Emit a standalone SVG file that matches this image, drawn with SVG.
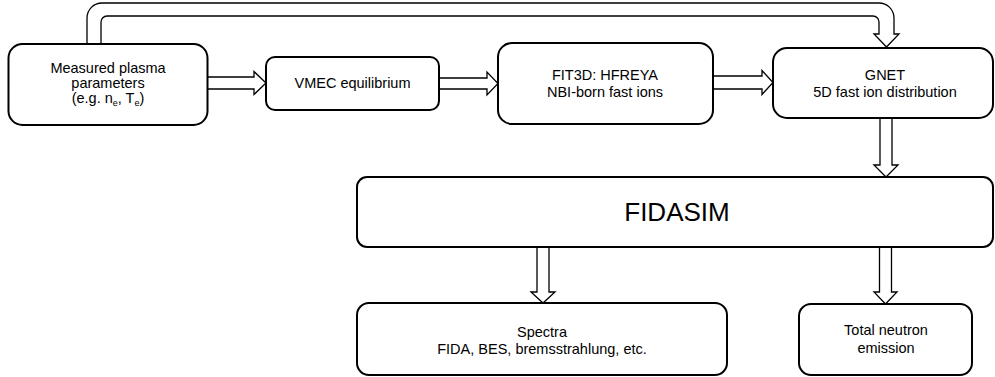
<svg xmlns="http://www.w3.org/2000/svg" width="995" height="377" viewBox="0 0 995 377">
<style>
.box{fill:#fff;stroke:#000;stroke-width:2}
.arr{fill:#fff;stroke:#000;stroke-width:1.3;stroke-linejoin:miter}
text{font-family:"Liberation Sans",Arial,sans-serif;font-size:14.5px;fill:#000;text-anchor:middle}
.big{font-size:26px}
.sub{font-size:9px}
</style>
<rect width="995" height="377" fill="#fff"/>
<g id="connectors">
<path class="arr" d="M87,44 V18 A15,15 0 0 1 102,3 H879 A15,15 0 0 1 894,18 V34 H899 L886.5,47 L874,34 H879 V22 A6,6 0 0 0 873,16 H107 A6,6 0 0 0 101,22 V44"/>
<path class="arr" d="M208,77 H254 V71.5 L266,83 L254,94.5 V89 H208"/>
<path class="arr" d="M439,78 H487 V72 L498,83.5 L487,95 V89 H439"/>
<path class="arr" d="M714,76 H762 V70.5 L773,82.5 L762,94.5 V89 H714"/>
<path class="arr" d="M880,119 V165 H874 L886,177 L898,165 H892 V119"/>
<path class="arr" d="M537,247 V292 H531 L543,303 L555,292 H549 V247"/>
<path class="arr" d="M879.5,247 V292 H874 L885.5,304 L897,292 H891.5 V247"/>
</g>
<g id="measured">
<rect class="box" x="8.5" y="44" width="199" height="81" rx="14"/>
<text x="108" y="73">Measured plasma</text>
<text x="108" y="88">parameters</text>
<text x="108" y="102.5">(e.g. n<tspan class="sub" dy="3">e</tspan><tspan dy="-3">, T</tspan><tspan class="sub" dy="3">e</tspan><tspan dy="-3">)</tspan></text>
</g>
<g id="vmec">
<rect class="box" x="266" y="57" width="173" height="53" rx="9"/>
<text x="352.5" y="88">VMEC equilibrium</text>
</g>
<g id="fit3d">
<rect class="box" x="498" y="43" width="215" height="81" rx="14"/>
<text x="605" y="80">FIT3D: HFREYA</text>
<text x="605" y="97">NBI-born fast ions</text>
</g>
<g id="gnet">
<rect class="box" x="773" y="48" width="220" height="70" rx="14"/>
<text x="885" y="80">GNET</text>
<text x="885" y="97">5D fast ion distribution</text>
</g>
<g id="fidasim">
<rect class="box" x="357" y="177" width="636" height="70" rx="10"/>
<text class="big" x="677" y="221">FIDASIM</text>
</g>
<g id="spectra">
<rect class="box" x="357" y="303" width="370" height="72" rx="12"/>
<text x="542" y="337">Spectra</text>
<text x="542" y="354">FIDA, BES, bremsstrahlung, etc.</text>
</g>
<g id="neutron">
<rect class="box" x="799" y="304" width="173" height="71" rx="12"/>
<text x="886" y="335">Total neutron</text>
<text x="886" y="353">emission</text>
</g>
</svg>
